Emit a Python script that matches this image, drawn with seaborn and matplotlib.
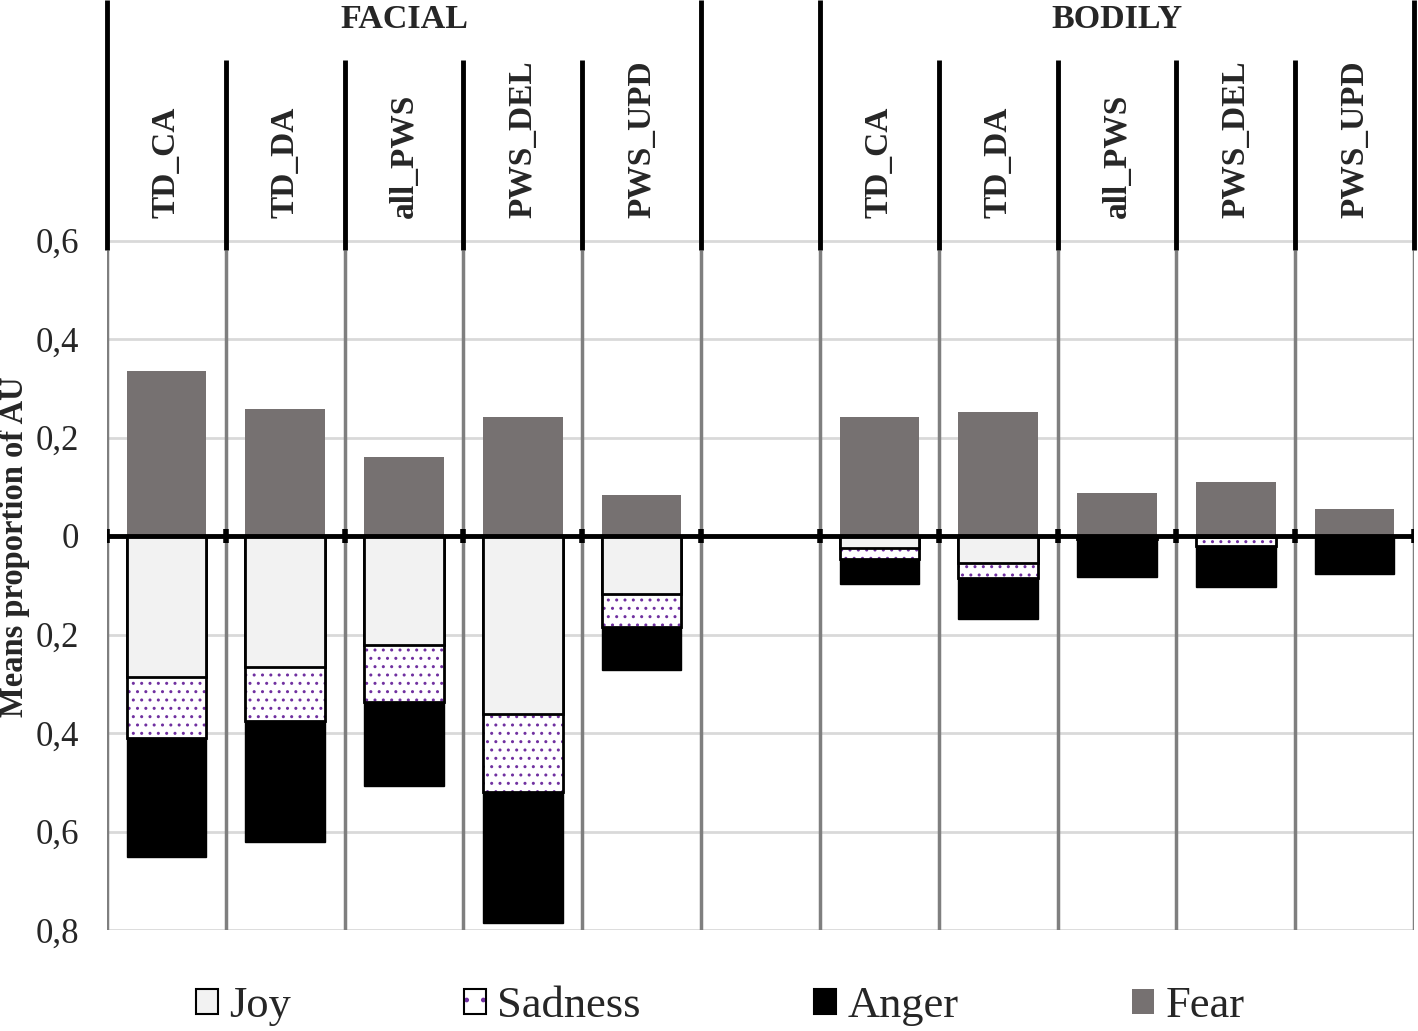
import pandas as pd
import seaborn as sns
import matplotlib.pyplot as plt
from matplotlib.patches import Patch

# data (means proportion of AU)
groups = ["FACIAL", "BODILY"]
categories = ["TD_CA", "TD_DA", "all_PWS", "PWS_DEL", "PWS_UPD"]

facial_fear = [0.335, 0.258, 0.160, 0.242, 0.083]
facial_joy = [0.287, 0.266, 0.222, 0.362, 0.117]
facial_sadness = [0.123, 0.110, 0.115, 0.158, 0.068]
facial_anger = [0.242, 0.245, 0.171, 0.266, 0.087]

bodily_fear = [0.242, 0.252, 0.087, 0.110, 0.055]
bodily_joy = [0.024, 0.055, 0.002, 0.003, 0.0]
bodily_sadness = [0.023, 0.030, 0.004, 0.018, 0.0]
bodily_anger = [0.050, 0.084, 0.077, 0.083, 0.077]

tick_values = [-0.8, -0.6, -0.4, -0.2, 0, 0.2, 0.4, 0.6]
tick_labels = ["0,8", "0,6", "0,4", "0,2", "0", "0,2", "0,4", "0,6"]

sns.set_theme(style="white")
plt.rcParams["font.family"] = ["Liberation Serif", "DejaVu Serif"]
plt.rcParams["hatch.linewidth"] = 1.0

slots = [f"F_{c}" for c in categories] + ["gap"] + [f"B_{c}" for c in categories]
df = pd.DataFrame({
    "slot": slots,
    "fear": facial_fear + [0] + bodily_fear,
    "joy": facial_joy + [0] + bodily_joy,
    "sadness": facial_sadness + [0] + bodily_sadness,
    "anger": facial_anger + [0] + bodily_anger,
})
df["joy_cum"] = -df["joy"]
df["sad_cum"] = -(df["joy"] + df["sadness"])
df["anger_cum"] = -(df["joy"] + df["sadness"] + df["anger"])

W, H = 1418, 1031
fig = plt.figure(figsize=(W / 100, H / 100), dpi=100)
ax = fig.add_axes([107 / W, 1 - 930 / H, 1307 / W, 930 / H])

FEAR = "#767171"
JOY = "#f2f2f2"
PURPLE = "#7030a0"


def bars(col, face, edge, lw, hatch=None, z=3):
    sns.barplot(data=df, x="slot", y=col, order=slots, color=face,
                saturation=1, width=0.67, errorbar=None, ax=ax)
    for p in ax.containers[-1]:
        p.set_facecolor(face)
        p.set_edgecolor(edge)
        p.set_linewidth(lw)
        p.set_zorder(z)
        if hatch:
            p.set_hatch(hatch)


bars("fear", FEAR, "none", 0)
bars("anger_cum", "black", "black", 1.0)
bars("sad_cum", "white", PURPLE, 0, hatch="..", z=3.1)
bars("sad_cum", "none", "black", 2.0, z=3.2)
bars("joy_cum", JOY, "black", 2.0, z=3.3)

top = 536 / 492.5
ax.set_ylim(-0.8, top)
ax.set_xlim(-0.5, 10.5)
ax.set_xlabel("")
ax.set_ylabel("")
ax.set_xticks([])
ax.set_yticks(tick_values)
ax.set_yticklabels(tick_labels)
ax.tick_params(axis="y", length=0, pad=20, labelsize=25)
for s in ax.spines.values():
    s.set_visible(False)

# horizontal grid
ax.hlines(tick_values, -0.5, 10.5, color="#d9d9d9", lw=2, zorder=0)

# dividers: grey in plot area, black in the header table
for i in range(12):
    x = i - 0.5
    ax.vlines(x, -0.8, 0.58, color="#7f7f7f", lw=2.5, zorder=1)
    head_top = top if i in (0, 5, 6, 11) else 0.966
    ax.vlines(x, 0.58, head_top, color="black", lw=3.5, zorder=1, clip_on=False)
    ax.vlines(x, -0.014, 0.014, color="black", lw=4, zorder=6)

ax.axhline(0, color="black", lw=3.5, zorder=5)

# header labels
for i, s in enumerate(slots):
    if s == "gap":
        continue
    ax.text(i, 0.646, s[2:], rotation=90, ha="center", va="bottom",
            fontsize=24, fontweight="bold")
ax.text(2, 1.048, groups[0], ha="center", va="center", fontsize=24.5, fontweight="bold")
ax.text(8, 1.048, groups[1], ha="center", va="center", fontsize=24.5, fontweight="bold")

fig.text(15 / W, 1 - 547 / H, "Means proportion of AU", rotation=90,
         ha="center", va="center", fontsize=23.5, fontweight="bold")

handles = [
    Patch(facecolor=JOY, edgecolor="black", lw=1.5),
    (Patch(facecolor="white", edgecolor=PURPLE, lw=0, hatch="."),
     Patch(facecolor="none", edgecolor="black", lw=1.5)),
    Patch(facecolor="black", edgecolor="black", lw=1.5),
    Patch(facecolor=FEAR, edgecolor="none"),
]
fig.legend(handles, ["Joy", "Sadness", "Anger", "Fear"], loc="center",
           bbox_to_anchor=(720 / W, 1 - 1006 / H), ncol=4, frameon=False,
           fontsize=32, handlelength=0.5, handleheight=0.5,
           handletextpad=0.25, columnspacing=3.9)

fig.savefig("out.png", dpi=100)
